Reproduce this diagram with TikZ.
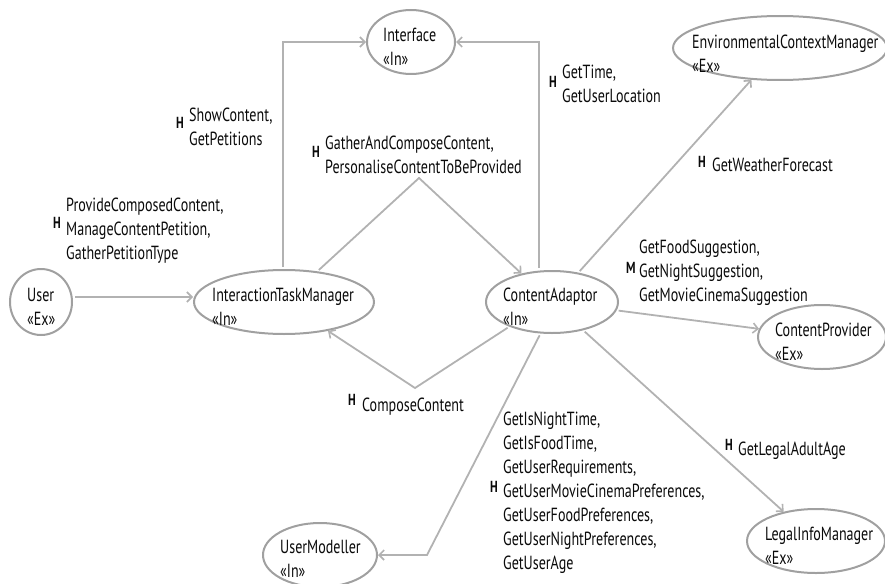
\documentclass[tikz,border=0pt]{standalone}
\usepackage{fontspec}
\setmainfont{PT Sans}[FakeStretch=0.74]
\usetikzlibrary{arrows.meta,shapes.geometric}
\definecolor{edgec}{RGB}{178,178,178}
\definecolor{rimc}{RGB}{160,160,160}
\definecolor{txtc}{RGB}{10,10,10}
\tikzset{
 ent/.style={ellipse, draw=rimc, line width=2pt, inner sep=0pt},
 conn/.style={draw=edgec, line width=1.8pt, shorten <=2pt, -{Straight Barb[length=5pt,width=10pt,line width=1.6pt]}},
 lbl/.style={anchor=north west, inner sep=0pt, align=left, text=txtc, font=\fontsize{19}{24}\selectfont},
 mk/.style={anchor=north west, inner sep=0pt, text=txtc, font=\bfseries\fontsize{16}{16}\selectfont},
}
\begin{document}
\begin{tikzpicture}[x=1pt,y=-1pt]
\useasboundingbox (0,0) rectangle (885,583);
% entities
\node[ent, minimum width=88pt, minimum height=64pt] (iface) at (411,42) {};
\node[ent, minimum width=214pt, minimum height=64pt] (ecm) at (780,48) {};
\node[ent, minimum width=62pt, minimum height=66pt] (user) at (41,302) {};
\node[ent, minimum width=180pt, minimum height=64pt] (itm) at (284,302) {};
\node[ent, minimum width=132pt, minimum height=62pt] (ca) at (552,302) {};
\node[ent, minimum width=128pt, minimum height=64pt] (cp) at (822,337) {};
\node[ent, minimum width=138pt, minimum height=64pt] (lim) at (816,541) {};
\node[ent, minimum width=114pt, minimum height=64pt] (um) at (320,555) {};
% entity texts
\node[lbl] (ifaceT) at (383,28) {Interface\\«In»};
\node[lbl] (ecmT) at (692,35) {EnvironmentalContextManager\\«Ex»};
\node[lbl] (userT) at (27,288) {User\\«Ex»};
\node[lbl] (itmT) at (212,288) {InteractionTaskManager\\«In»};
\node[lbl] (caT) at (503,288) {ContentAdaptor\\«In»};
\node[lbl] (cpT) at (775,323) {ContentProvider\\«Ex»};
\node[lbl] (limT) at (765,527) {LegalInfoManager\\«Ex»};
\node[lbl] (umT) at (280,540) {UserModeller\\«In»};
% bend points
\coordinate (pk) at (419,178);
\coordinate (vl) at (415,388);
\coordinate (bd) at (427,555);
% connectors
\draw[conn] ([yshift=5pt]user.east) -- ([yshift=5pt]itm.west);
\draw[conn] ([xshift=-1pt]itm.north) |- (iface.west);
\draw[conn] (itm) -- (pk) -- (ca);
\draw[conn] ([xshift=-13pt]ca.north) |- (iface.east);
\draw[conn] (ca) -- (ecm);
\draw[conn] (ca) -- (cp);
\draw[conn] (ca) -- (lim);
\draw[conn] (ca.210) -- (vl) -- (itm);
\draw[conn] (ca.250) -- (bd) -- (um.east);
% labels
\node[mk] (m1) at (176,117) {H};
\node[lbl] (l1) at (189,108) {ShowContent,\\GetPetitions};
\node[mk] (m2) at (312,146) {H};
\node[lbl] (l2) at (325,136) {GatherAndComposeContent,\\PersonaliseContentToBeProvided};
\node[mk] (m3) at (53,217) {H};
\node[lbl] (l3) at (66,198) {ProvideComposedContent,\\ManageContentPetition,\\GatherPetitionType};
\node[mk] (m4) at (549,76) {H};
\node[lbl] (l4) at (562,65) {GetTime,\\GetUserLocation};
\node[mk] (m5) at (698,156) {H};
\node[lbl] (l5) at (712,158) {GetWeatherForecast};
\node[mk] (m6) at (626,262) {M};
\node[lbl] (l6) at (639,240) {GetFoodSuggestion,\\GetNightSuggestion,\\GetMovieCinemaSuggestion};
\node[mk] (m7) at (348,394) {H};
\node[lbl] (l7) at (362,398) {ComposeContent};
\node[mk] (m8) at (490,481) {H};
\node[lbl] (l8) at (503,412) {GetIsNightTime,\\GetIsFoodTime,\\GetUserRequirements,\\GetUserMovieCinemaPreferences,\\GetUserFoodPreferences,\\GetUserNightPreferences,\\GetUserAge};
\node[mk] (m9) at (725,439) {H};
\node[lbl] (l9) at (738,442) {GetLegalAdultAge};
\end{tikzpicture}
\end{document}
